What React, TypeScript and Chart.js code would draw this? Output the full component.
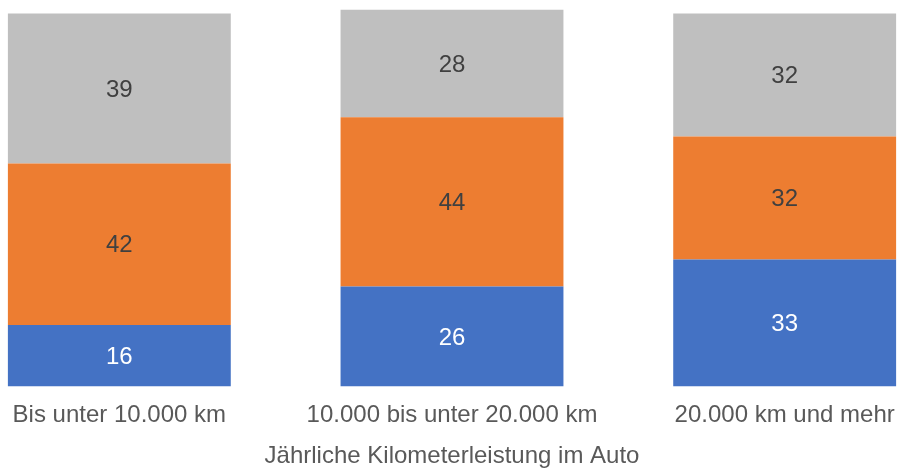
import React, { useEffect, useRef } from "react";
import { Chart, registerables } from "chart.js";

Chart.register(...registerables);

const categories = ["Bis unter 10.000 km", "10.000 bis unter 20.000 km", "20.000 km und mehr"];
const seriesBlue = [16, 26, 33];
const seriesOrange = [42, 44, 32];
const seriesGrey = [39, 28, 32];
const axisTitle = "Jährliche Kilometerleistung im Auto";

const FONT = "'Liberation Sans', Arial, sans-serif";

const labelPlugin = {
  id: "barLabels",
  afterDatasetsDraw(chart: any) {
    const ctx = chart.ctx;
    ctx.save();
    ctx.font = `24px ${FONT}`;
    ctx.textAlign = "center";
    ctx.textBaseline = "middle";
    chart.data.datasets.forEach((ds: any, i: number) => {
      const meta = chart.getDatasetMeta(i);
      meta.data.forEach((el: any, j: number) => {
        const v = ds.data[j];
        ctx.fillStyle = ds.labelColor;
        ctx.fillText(String(v), el.x, (el.y + el.base) / 2 + 1.5);
      });
    });
    ctx.restore();
  },
};

export default function App() {
  const ref = useRef<HTMLCanvasElement>(null);
  useEffect(() => {
    if (!ref.current) return;
    const chart = new Chart(ref.current, {
      type: "bar",
      data: {
        labels: categories,
        datasets: [
          { label: "a", data: seriesBlue, backgroundColor: "#4472C4", labelColor: "#FFFFFF" } as any,
          { label: "b", data: seriesOrange, backgroundColor: "#ED7D31", labelColor: "#404040" } as any,
          { label: "c", data: seriesGrey, backgroundColor: "#BFBFBF", labelColor: "#404040" } as any,
        ],
      },
      options: {
        responsive: false,
        animation: false,
        layout: { padding: { top: 2, left: 0, right: 0, bottom: 0 } },
        plugins: { legend: { display: false }, tooltip: { enabled: false } },
        datasets: { bar: { barPercentage: 0.67, categoryPercentage: 1 } },
        scales: {
          x: {
            stacked: true,
            grid: { display: false, drawTicks: false },
            border: { display: false },
            ticks: { padding: 15, color: "#595959", font: { family: FONT, size: 24 }, maxRotation: 0, autoSkip: false },
            title: {
              display: true,
              text: axisTitle,
              color: "#595959",
              font: { family: FONT, size: 24 },
              padding: { top: -3, bottom: -2 },
            },
          },
          y: { stacked: true, display: false, min: 0, max: 100 },
        },
      },
      plugins: [labelPlugin],
    });
    return () => chart.destroy();
  }, []);
  return (
    <div style={{ position: "fixed", left: 0, top: 0, width: 897, height: 469, overflow: "hidden", background: "#fff" }}>
      <canvas ref={ref} width={998} height={469} style={{ position: "absolute", left: -47, top: 0 }} />
    </div>
  );
}
